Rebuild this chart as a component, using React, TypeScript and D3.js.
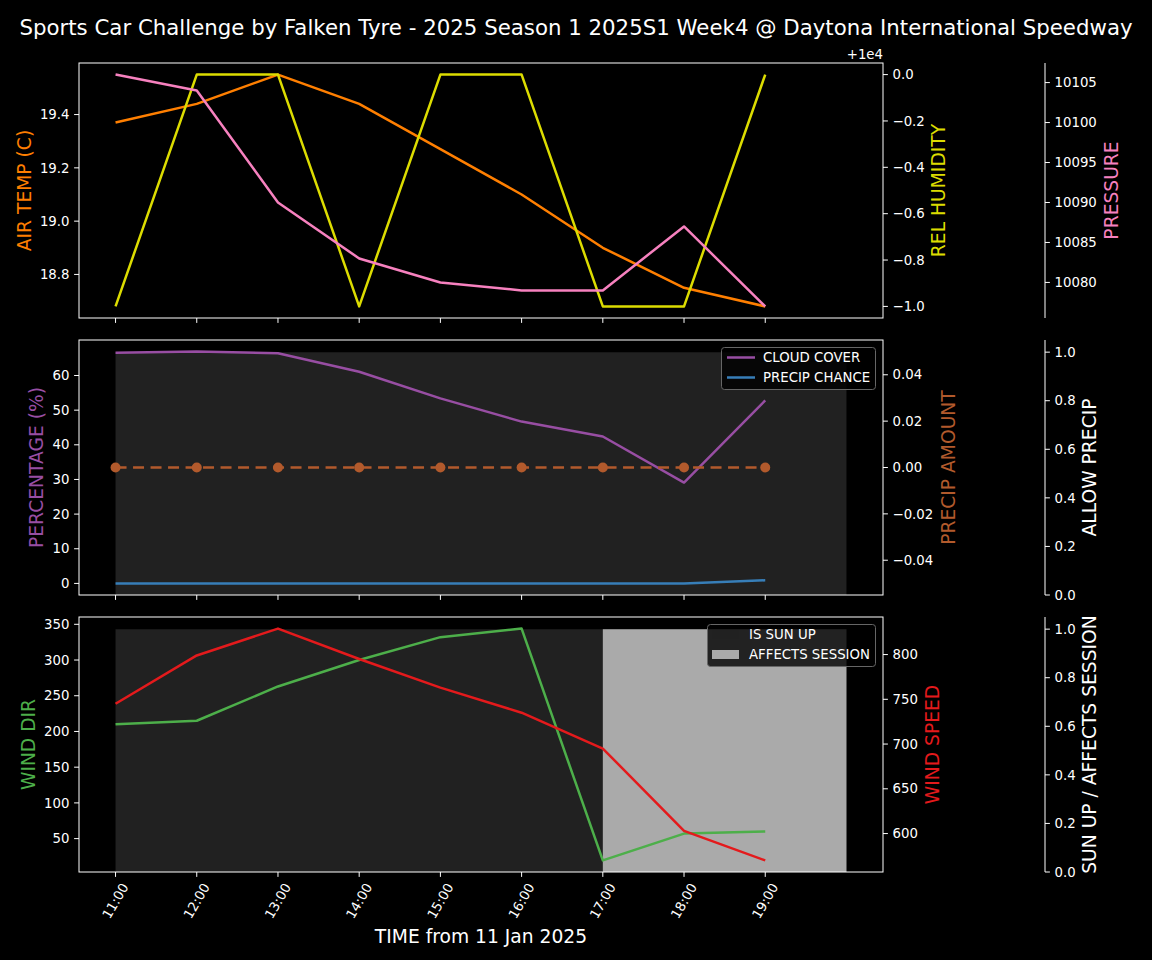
import React from "react";
import * as d3 from "d3";

const hours = [11, 12, 13, 14, 15, 16, 17, 18, 19];
const fillHours = [11, 12, 13, 14, 15, 16, 17, 18, 19, 20];
const xTickLabels = ["11:00", "12:00", "13:00", "14:00", "15:00", "16:00", "17:00", "18:00", "19:00"];
const airTemp = [19.37, 19.44, 19.55, 19.44, 19.27, 19.1, 18.9, 18.75, 18.68];
const relHumidity = [9999, 10000, 10000, 9999, 10000, 10000, 9999, 9999, 10000];
const pressure = [10106, 10104, 10090, 10083, 10080, 10079, 10079, 10087, 10077];
const cloudCover = [66.6, 66.9, 66.4, 61.1, 53.4, 46.7, 42.4, 29.1, 52.8];
const precipChance = [0, 0, 0, 0, 0, 0, 0, 0, 0.9];
const precipAmount = [0, 0, 0, 0, 0, 0, 0, 0, 0];
const allowPrecip = [1, 1, 1, 1, 1, 1, 1, 1, 1, 1];
const windDir = [210, 215, 263, 300, 332, 344, 19.5, 57, 60];
const windSpeed = [745, 799, 829, 795, 763, 735, 695, 603, 570];
const sunUp = [1, 1, 1, 1, 1, 1, 1, 1, 1, 1];
const affectsSession = [0, 0, 0, 0, 0, 0, 1, 1, 1, 1];

const tempTicks = [18.8, 19.0, 19.2, 19.4];
const humTicks = [9999, 9999.2, 9999.4, 9999.6, 9999.8, 10000];
const pressTicks = [10080, 10085, 10090, 10095, 10100, 10105];
const pctTicks = [0, 10, 20, 30, 40, 50, 60];
const amtTicks = [-0.04, -0.02, 0, 0.02, 0.04];
const unitTicks = [0, 0.2, 0.4, 0.6, 0.8, 1.0];
const dirTicks = [50, 100, 150, 200, 250, 300, 350];
const speedTicks = [600, 650, 700, 750, 800];

const C = {
  orange: "#ff7f00",
  yellow: "#dcdc00",
  pink: "#f781bf",
  purple: "#984ea3",
  blue: "#377eb8",
  brown: "#b25a2c",
  green: "#4daf4a",
  red: "#e41a1c",
  dark: "#212121",
  light: "#aaaaaa",
};

const W = 1152;
const H = 960;
const L = 79;
const R = 883;
const X3 = 1045;
const panels = [
  { top: 63, bottom: 318 },
  { top: 340, bottom: 595 },
  { top: 617, bottom: 872 },
];
const FONT = "DejaVu Sans, sans-serif";
const LW = 2.5;

function padDomain(vals: number[]): [number, number] {
  const lo = d3.min(vals) as number;
  const hi = d3.max(vals) as number;
  const m = (hi - lo) * 0.05;
  return [lo - m, hi + m];
}

const fmtMinus = (s: string) => s.replace("-", "\u2212");

const x = d3.scaleLinear().domain(padDomain(fillHours)).range([L, R]);

function YAxis({ scale, ticks, side, xPos, fmt, spine }: any) {
  const p = scale.range();
  const dir = side === "left" ? -1 : 1;
  return (
    <g>
      {spine && <line x1={xPos} x2={xPos} y1={p[0]} y2={p[1]} stroke="#fff" strokeWidth={1} />}
      {ticks.map((t: number, i: number) => {
        const y = scale(t);
        return (
          <g key={i}>
            <line x1={xPos} x2={xPos + dir * 4.9} y1={y} y2={y} stroke="#fff" strokeWidth={1} />
            <text
              x={xPos + dir * 9.5}
              y={y}
              dy="0.35em"
              textAnchor={side === "left" ? "end" : "start"}
              fill="#fff"
              fontSize={13.3}
              fontFamily={FONT}
            >
              {fmt(t)}
            </text>
          </g>
        );
      })}
    </g>
  );
}

function VLabel({ x: xx, y, text, color }: any) {
  return (
    <text
      transform={`translate(${xx},${y}) rotate(-90)`}
      textAnchor="middle"
      dominantBaseline="central"
      fill={color}
      fontSize={18.7}
      fontFamily={FONT}
    >
      {text}
    </text>
  );
}

function Line({ xs, ys, scale, color, dash, width }: any) {
  const gen = d3
    .line<number>()
    .x((_, i) => x(xs[i]))
    .y((d) => scale(d));
  return <path d={gen(ys) || ""} fill="none" stroke={color} strokeWidth={width || LW} strokeDasharray={dash} strokeLinejoin="round" />;
}

function StepFill({ ys, scale, color }: any) {
  const gen = d3
    .area<number>()
    .x((_, i) => x(fillHours[i]))
    .y0(scale(0))
    .y1((d) => scale(d))
    .curve(d3.curveStepAfter);
  return <path d={gen(ys) || ""} fill={color} stroke="none" />;
}

function XTicks({ bottom, labels }: any) {
  return (
    <g>
      {hours.map((h, i) => (
        <g key={i}>
          <line x1={x(h)} x2={x(h)} y1={bottom} y2={bottom + 4.9} stroke="#fff" strokeWidth={1} />
          {labels && (
            <text
              transform={`translate(${x(h)},${bottom + 29}) rotate(-60)`}
              textAnchor="middle"
              dominantBaseline="central"
              fill="#fff"
              fontSize={13.3}
              fontFamily={FONT}
            >
              {xTickLabels[i]}
            </text>
          )}
        </g>
      ))}
    </g>
  );
}

function Frame({ p }: any) {
  return <rect x={L} y={p.top} width={R - L} height={p.bottom - p.top} fill="none" stroke="#fff" strokeWidth={1} />;
}

export default function App() {
  const p0 = panels[0];
  const p1 = panels[1];
  const p2 = panels[2];

  const yTemp = d3.scaleLinear().domain(padDomain(airTemp)).range([p0.bottom, p0.top]);
  const yHum = d3.scaleLinear().domain(padDomain(relHumidity)).range([p0.bottom, p0.top]);
  const yPress = d3.scaleLinear().domain(padDomain(pressure)).range([p0.bottom, p0.top]);

  const yPct = d3.scaleLinear().domain(padDomain([...cloudCover, ...precipChance])).range([p1.bottom, p1.top]);
  const yAmt = d3.scaleLinear().domain([-0.055, 0.055]).range([p1.bottom, p1.top]);
  const yAllow = d3.scaleLinear().domain([0, 1.05]).range([p1.bottom, p1.top]);

  const yDir = d3.scaleLinear().domain(padDomain(windDir)).range([p2.bottom, p2.top]);
  const ySpeed = d3.scaleLinear().domain(padDomain(windSpeed)).range([p2.bottom, p2.top]);
  const ySun = d3.scaleLinear().domain([0, 1.05]).range([p2.bottom, p2.top]);

  const mid = (p: any) => (p.top + p.bottom) / 2;

  return (
    <svg width={W} height={H} style={{ display: "block", position: "absolute", left: 0, top: 0, background: "#000" }}>
      <rect x={0} y={0} width={W} height={H} fill="#000" />
      <text x={576} y={35} textAnchor="middle" fill="#fff" fontSize={21.3} fontFamily={FONT}>
        Sports Car Challenge by Falken Tyre - 2025 Season 1 2025S1 Week4 @ Daytona International Speedway
      </text>

      {/* Panel 1 */}
      <g>
        <Line xs={hours} ys={airTemp} scale={yTemp} color={C.orange} />
        <Line xs={hours} ys={relHumidity} scale={yHum} color={C.yellow} />
        <Line xs={hours} ys={pressure} scale={yPress} color={C.pink} />
        <Frame p={p0} />
        <XTicks bottom={p0.bottom} labels={false} />
        <YAxis scale={yTemp} ticks={tempTicks} side="left" xPos={L} fmt={(t: number) => t.toFixed(1)} />
        <YAxis
          scale={yHum}
          ticks={humTicks}
          side="right"
          xPos={R}
          fmt={(t: number) => {
            const v = t - 10000;
            return Math.abs(v) < 1e-9 ? "0.0" : fmtMinus(v.toFixed(1));
          }}
        />
        <text x={R} y={59} textAnchor="end" fill="#fff" fontSize={13.3} fontFamily={FONT}>
          +1e4
        </text>
        <YAxis scale={yPress} ticks={pressTicks} side="right" xPos={X3} spine fmt={(t: number) => String(t)} />
        <VLabel x={24} y={mid(p0)} text="AIR TEMP (C)" color={C.orange} />
        <VLabel x={938} y={mid(p0)} text="REL HUMIDITY" color={C.yellow} />
        <VLabel x={1111} y={mid(p0)} text="PRESSURE" color={C.pink} />
      </g>

      {/* Panel 2 */}
      <g>
        <StepFill ys={allowPrecip} scale={yAllow} color={C.dark} />
        <Line xs={hours} ys={cloudCover} scale={yPct} color={C.purple} />
        <Line xs={hours} ys={precipChance} scale={yPct} color={C.blue} />
        <Line xs={hours} ys={precipAmount} scale={yAmt} color={C.brown} dash="11 6.5" width={2.6} />
        {precipAmount.map((v, i) => (
          <circle key={i} cx={x(hours[i])} cy={yAmt(v)} r={5} fill={C.brown} />
        ))}
        <Frame p={p1} />
        <XTicks bottom={p1.bottom} labels={false} />
        <YAxis scale={yPct} ticks={pctTicks} side="left" xPos={L} fmt={(t: number) => String(t)} />
        <YAxis
          scale={yAmt}
          ticks={amtTicks}
          side="right"
          xPos={R}
          fmt={(t: number) => (Math.abs(t) < 1e-9 ? "0.00" : fmtMinus(t.toFixed(2)))}
        />
        <YAxis scale={yAllow} ticks={unitTicks} side="right" xPos={X3} spine fmt={(t: number) => t.toFixed(1)} />
        <VLabel x={36} y={mid(p1)} text="PERCENTAGE (%)" color={C.purple} />
        <VLabel x={948} y={mid(p1)} text="PRECIP AMOUNT" color={C.brown} />
        <VLabel x={1089} y={mid(p1)} text="ALLOW PRECIP" color="#fff" />
        <g>
          <rect x={721.5} y={347.5} width={154} height={42} rx={3} fill="#000" fillOpacity={0.8} stroke="#666" strokeWidth={1} />
          <line x1={727} x2={755} y1={357.5} y2={357.5} stroke={C.purple} strokeWidth={LW} />
          <text x={763} y={357.5} dy="0.35em" fill="#fff" fontSize={13.3} fontFamily={FONT}>
            CLOUD COVER
          </text>
          <line x1={727} x2={755} y1={377.5} y2={377.5} stroke={C.blue} strokeWidth={LW} />
          <text x={763} y={377.5} dy="0.35em" fill="#fff" fontSize={13.3} fontFamily={FONT}>
            PRECIP CHANCE
          </text>
        </g>
      </g>

      {/* Panel 3 */}
      <g>
        <StepFill ys={sunUp} scale={ySun} color={C.dark} />
        <StepFill ys={affectsSession} scale={ySun} color={C.light} />
        <Line xs={hours} ys={windDir} scale={yDir} color={C.green} />
        <Line xs={hours} ys={windSpeed} scale={ySpeed} color={C.red} />
        <Frame p={p2} />
        <XTicks bottom={p2.bottom} labels={true} />
        <YAxis scale={yDir} ticks={dirTicks} side="left" xPos={L} fmt={(t: number) => String(t)} />
        <YAxis scale={ySpeed} ticks={speedTicks} side="right" xPos={R} fmt={(t: number) => String(t)} />
        <YAxis scale={ySun} ticks={unitTicks} side="right" xPos={X3} spine fmt={(t: number) => t.toFixed(1)} />
        <VLabel x={28} y={mid(p2)} text="WIND DIR" color={C.green} />
        <VLabel x={932} y={mid(p2)} text="WIND SPEED" color={C.red} />
        <VLabel x={1089} y={mid(p2)} text="SUN UP / AFFECTS SESSION" color="#fff" />
        <g>
          <rect x={707.5} y={624.5} width={168} height={42} rx={3} fill="#000" fillOpacity={0.8} stroke="#666" strokeWidth={1} />
          <rect x={712} y={630} width={27} height={9} fill={C.dark} />
          <text x={749} y={634.5} dy="0.35em" fill="#fff" fontSize={13.3} fontFamily={FONT}>
            IS SUN UP
          </text>
          <rect x={712} y={650} width={27} height={9} fill={C.light} />
          <text x={749} y={654.5} dy="0.35em" fill="#fff" fontSize={13.3} fontFamily={FONT}>
            AFFECTS SESSION
          </text>
        </g>
        <text x={(L + R) / 2} y={943} textAnchor="middle" fill="#fff" fontSize={18.7} fontFamily={FONT}>
          TIME from 11 Jan 2025
        </text>
      </g>
    </svg>
  );
}
